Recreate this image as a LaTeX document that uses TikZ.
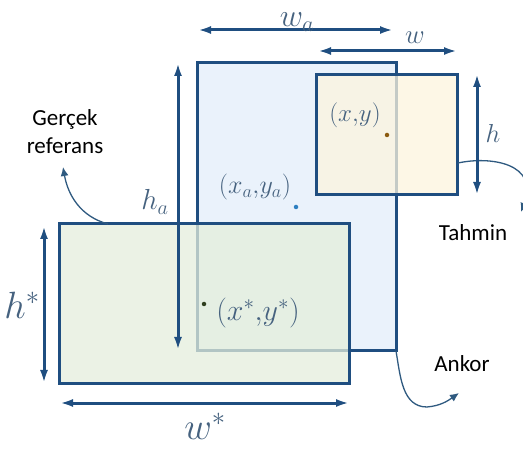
\RequirePackage{fix-cm}
\documentclass[tikz,border=0pt]{standalone}
\usepackage{fontspec}
\setmainfont{Carlito}
\usetikzlibrary{arrows.meta}
\definecolor{edge}{HTML}{1F4E80}
\definecolor{labc}{HTML}{46627F}
\definecolor{ancfill}{HTML}{EAF2FB}
\definecolor{predfill}{HTML}{FCF4DE}
\definecolor{gtfill}{HTML}{E4EEDC}
\definecolor{curvec}{HTML}{2F5A80}
\definecolor{dotpred}{HTML}{8B5A10}
\definecolor{dotanc}{HTML}{2E7FC0}
\definecolor{dotgt}{HTML}{2F3F1F}
\tikzset{
  x=1pt,y=1pt,
  boxstyle/.style={draw=edge,line width=3pt,rectangle,inner sep=0pt,outer sep=0pt},
  dimarrow/.style={draw=edge,line width=3pt,{Latex[length=13pt,width=8pt]}-{Latex[length=13pt,width=8pt]}},
  curvearrow/.style={draw=curvec,line width=1.3pt,-{Latex[length=9pt,width=8pt]}},
  mlabel/.style={text=labc,font=\fontsize{#1}{#1}\selectfont,inner sep=0pt},
  tlabel/.style={text=black,font=\fontsize{23}{28}\selectfont,inner sep=0pt,align=center},
  dotstyle/.style={circle,inner sep=0pt,minimum size=4.5pt}
}
\begin{document}
\begin{tikzpicture}
\useasboundingbox (0,0) rectangle (523,448);
\clip (0,0) rectangle (523,448);
% anchor box
\node[boxstyle,fill=ancfill,minimum width=199pt,minimum height=288pt] (anc) at (296.5,241) {};
% ground truth box (semi transparent)
\fill[gtfill,fill opacity=0.75] (59,65) rectangle (349,224);
\node[boxstyle,minimum width=290pt,minimum height=159pt] (gt) at (204,144.5) {};
% prediction box
\fill[predfill,fill opacity=0.75] (316,253) rectangle (457,373);
\node[boxstyle,minimum width=141pt,minimum height=120pt] (pred) at (386.5,313) {};
% centre dots
\node[dotstyle,fill=dotpred] (pc) at (387,313) {};
\node[dotstyle,fill=dotanc] (ac) at (296,241) {};
\node[dotstyle,fill=dotgt] (gc) at (204,144) {};
% coordinate labels
\node[mlabel=25] (pl) at (355,333) {$(x{,}y)$};
\node[mlabel=26] (al) at (255,261) {$(x_a{,}y_a)$};
\node[mlabel=30] (gl) at (258,135) {$(x^*{,}y^*)$};
% curved pointers
\coordinate (cg0) at (108,224); \coordinate (cg1) at (63,281);
\coordinate (cp0) at (458,285); \coordinate (cp1) at (521,236);
\coordinate (ca0) at (396,97);  \coordinate (ca1) at (427,41); \coordinate (ca2) at (459,55);
\draw[curvearrow] (cg0) to[out=165,in=-80] (cg1);
\draw[curvearrow] (cp0) .. controls (490,292) and (540,285) .. (cp1);
\draw[curvearrow] (ca0) to[out=-80,in=180] (ca1) to[out=5,in=-145] (ca2);
% dimension arrow end points
\coordinate (wa1) at (198,418); \coordinate (wa2) at (393,418);
\coordinate (w1) at (318,397);  \coordinate (w2) at (457,397);
\coordinate (h1) at (477,374);  \coordinate (h2) at (477,253);
\coordinate (ha1) at (178,385); \coordinate (ha2) at (178,98);
\coordinate (hs1) at (44,222);  \coordinate (hs2) at (44,65);
\coordinate (ws1) at (60,45);   \coordinate (ws2) at (349,45);
\draw[dimarrow] (wa1) -- (wa2);
\draw[dimarrow] (w1) -- (w2);
\draw[dimarrow] (h1) -- (h2);
\draw[dimarrow] (ha1) -- (ha2);
\draw[dimarrow] (hs1) -- (hs2);
\draw[dimarrow] (ws1) -- (ws2);
% dimension labels
\node[mlabel=32] (lwa) at (297,426) {$w_a$};
\node[mlabel=27] (lw) at (415,410) {$w$};
\node[mlabel=26] (lh) at (493,315) {$h$};
\node[mlabel=29] (lha) at (155,246) {$h_a$};
\node[mlabel=38] (lhs) at (22,143) {$h^*$};
\node[mlabel=38] (lws) at (205,22) {$w^*$};
% text labels
\node[tlabel] (tgt) at (65,316) {Gerçek\\referans};
\node[tlabel] (tpred) at (473,215) {Tahmin};
\node[tlabel] (tanc) at (462,84) {Ankor};
\end{tikzpicture}
\end{document}
